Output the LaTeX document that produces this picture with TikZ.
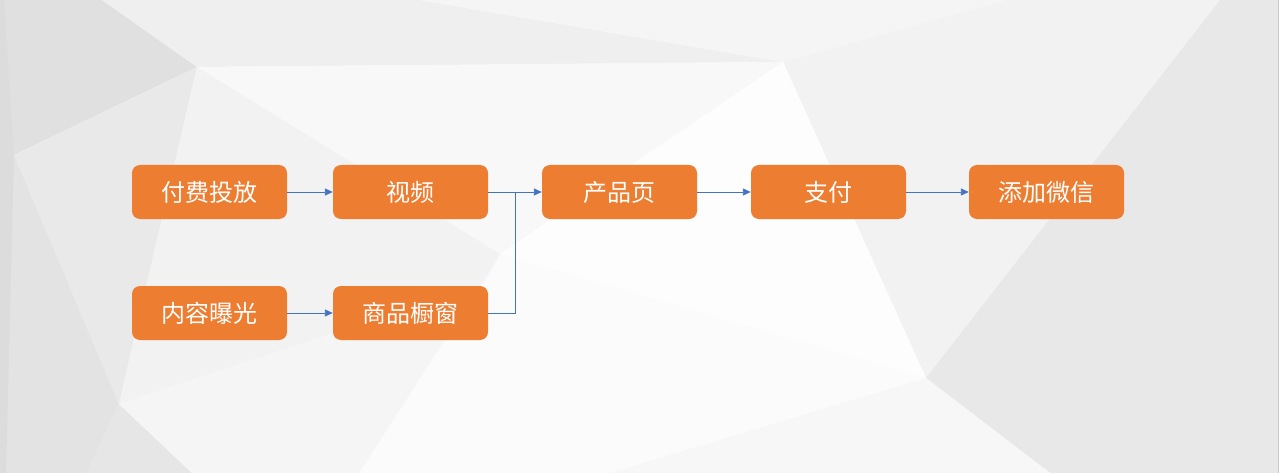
\documentclass[tikz,border=0pt]{standalone}
\usepackage{fontspec}
\newfontfamily\cjk{Noto Sans CJK SC}
\usetikzlibrary{arrows.meta}
\definecolor{boxorange}{HTML}{ED7D31}
\definecolor{linkblue}{HTML}{4472C4}
\tikzset{
  stepbox/.style={draw=none, fill=boxorange, rounded corners=8pt, minimum width=155pt,
    minimum height=54pt, inner sep=0pt, text=white, font=\cjk\fontsize{24}{24}\selectfont},
  conn/.style={draw=linkblue, line width=0.9pt, -{Triangle[length=8pt,width=7pt]}},
  connline/.style={draw=linkblue, line width=0.9pt},
  poly/.style={draw=none}
}
\begin{document}
\begin{tikzpicture}[x=1pt,y=-1pt]
\useasboundingbox (0,0) rectangle (1281,473);
\fill[white] (0,0) rectangle (1281,473);
% background low-poly vertices
\coordinate (A) at (197,67);
\coordinate (M) at (783,62);
\coordinate (B) at (926,378);
\coordinate (C) at (500,254);
\coordinate (D) at (119,404);
\coordinate (E) at (14,155);
\coordinate (F) at (483,284);
\fill[poly, fill={rgb,255:red,224;green,224;blue,224}] (0,0) -- (102,0) -- (A) -- (E) -- (0,155) -- cycle;
\fill[poly, fill={rgb,255:red,233;green,233;blue,233}] (E) -- (A) -- (D) -- cycle;
\fill[poly, fill={rgb,255:red,227;green,227;blue,227}] (0,155) -- (E) -- (D) -- (87,473) -- (0,473) -- cycle;
\fill[poly, fill={rgb,255:red,230;green,230;blue,230}] (D) -- (192,473) -- (87,473) -- cycle;
\fill[poly, fill={rgb,255:red,220;green,220;blue,220}] (0,0) -- (4,0) -- (E) -- (6,473) -- (0,473) -- cycle;
\fill[poly, fill={rgb,255:red,239;green,239;blue,239}] (102,0) -- (420,0) -- (M) -- (A) -- cycle;
\fill[poly, fill={rgb,255:red,245;green,245;blue,245}] (420,0) -- (1007,0) -- (M) -- cycle;
\fill[poly, fill={rgb,255:red,242;green,242;blue,242}] (1007,0) -- (1220,0) -- (B) -- (M) -- cycle;
\fill[poly, fill={rgb,255:red,232;green,232;blue,232}] (1220,0) -- (1281,0) -- (1281,473) -- (1050,473) -- (B) -- cycle;
\fill[poly, fill={rgb,255:red,248;green,248;blue,248}] (A) -- (M) -- (C) -- cycle;
\fill[poly, fill={rgb,255:red,253;green,253;blue,253}] (M) -- (B) -- (C) -- cycle;
\fill[poly, fill={rgb,255:red,251;green,251;blue,251}] (C) -- (B) -- (610,473) -- (359,473) -- cycle;
\fill[poly, fill={rgb,255:red,247;green,247;blue,247}] (B) -- (1050,473) -- (610,473) -- cycle;
\fill[poly, fill={rgb,255:red,242;green,242;blue,242}] (A) -- (C) -- (F) -- (D) -- cycle;
\fill[poly, fill={rgb,255:red,245;green,245;blue,245}] (D) -- (F) -- (C) -- (359,473) -- (192,473) -- cycle;
\draw[line width=1pt, draw={rgb,255:red,200;green,200;blue,200}] (1278.5,0) -- (1278.5,473);
\fill[white] (1279,0) rectangle (1281,473);
% nodes
\node[stepbox] (pay) at (209.5,192) {付费投放};
\node[stepbox] (video) at (410.5,192) {视频};
\node[stepbox] (prod) at (619.5,192) {产品页};
\node[stepbox] (zhifu) at (828.5,192) {支付};
\node[stepbox] (wechat) at (1046.5,192) {添加微信};
\node[stepbox] (expo) at (209.5,313) {内容曝光};
\node[stepbox] (shop) at (410.5,313) {商品橱窗};
\coordinate (join) at (515,192);
% connectors
\draw[conn] (pay) -- (video);
\draw[conn] (expo) -- (shop);
\draw[conn] (video) -- (prod);
\draw[connline] (shop.east) -- (shop.east -| join) -- (join);
\draw[conn] (prod) -- (zhifu);
\draw[conn] (zhifu) -- (wechat);
\end{tikzpicture}
\end{document}
